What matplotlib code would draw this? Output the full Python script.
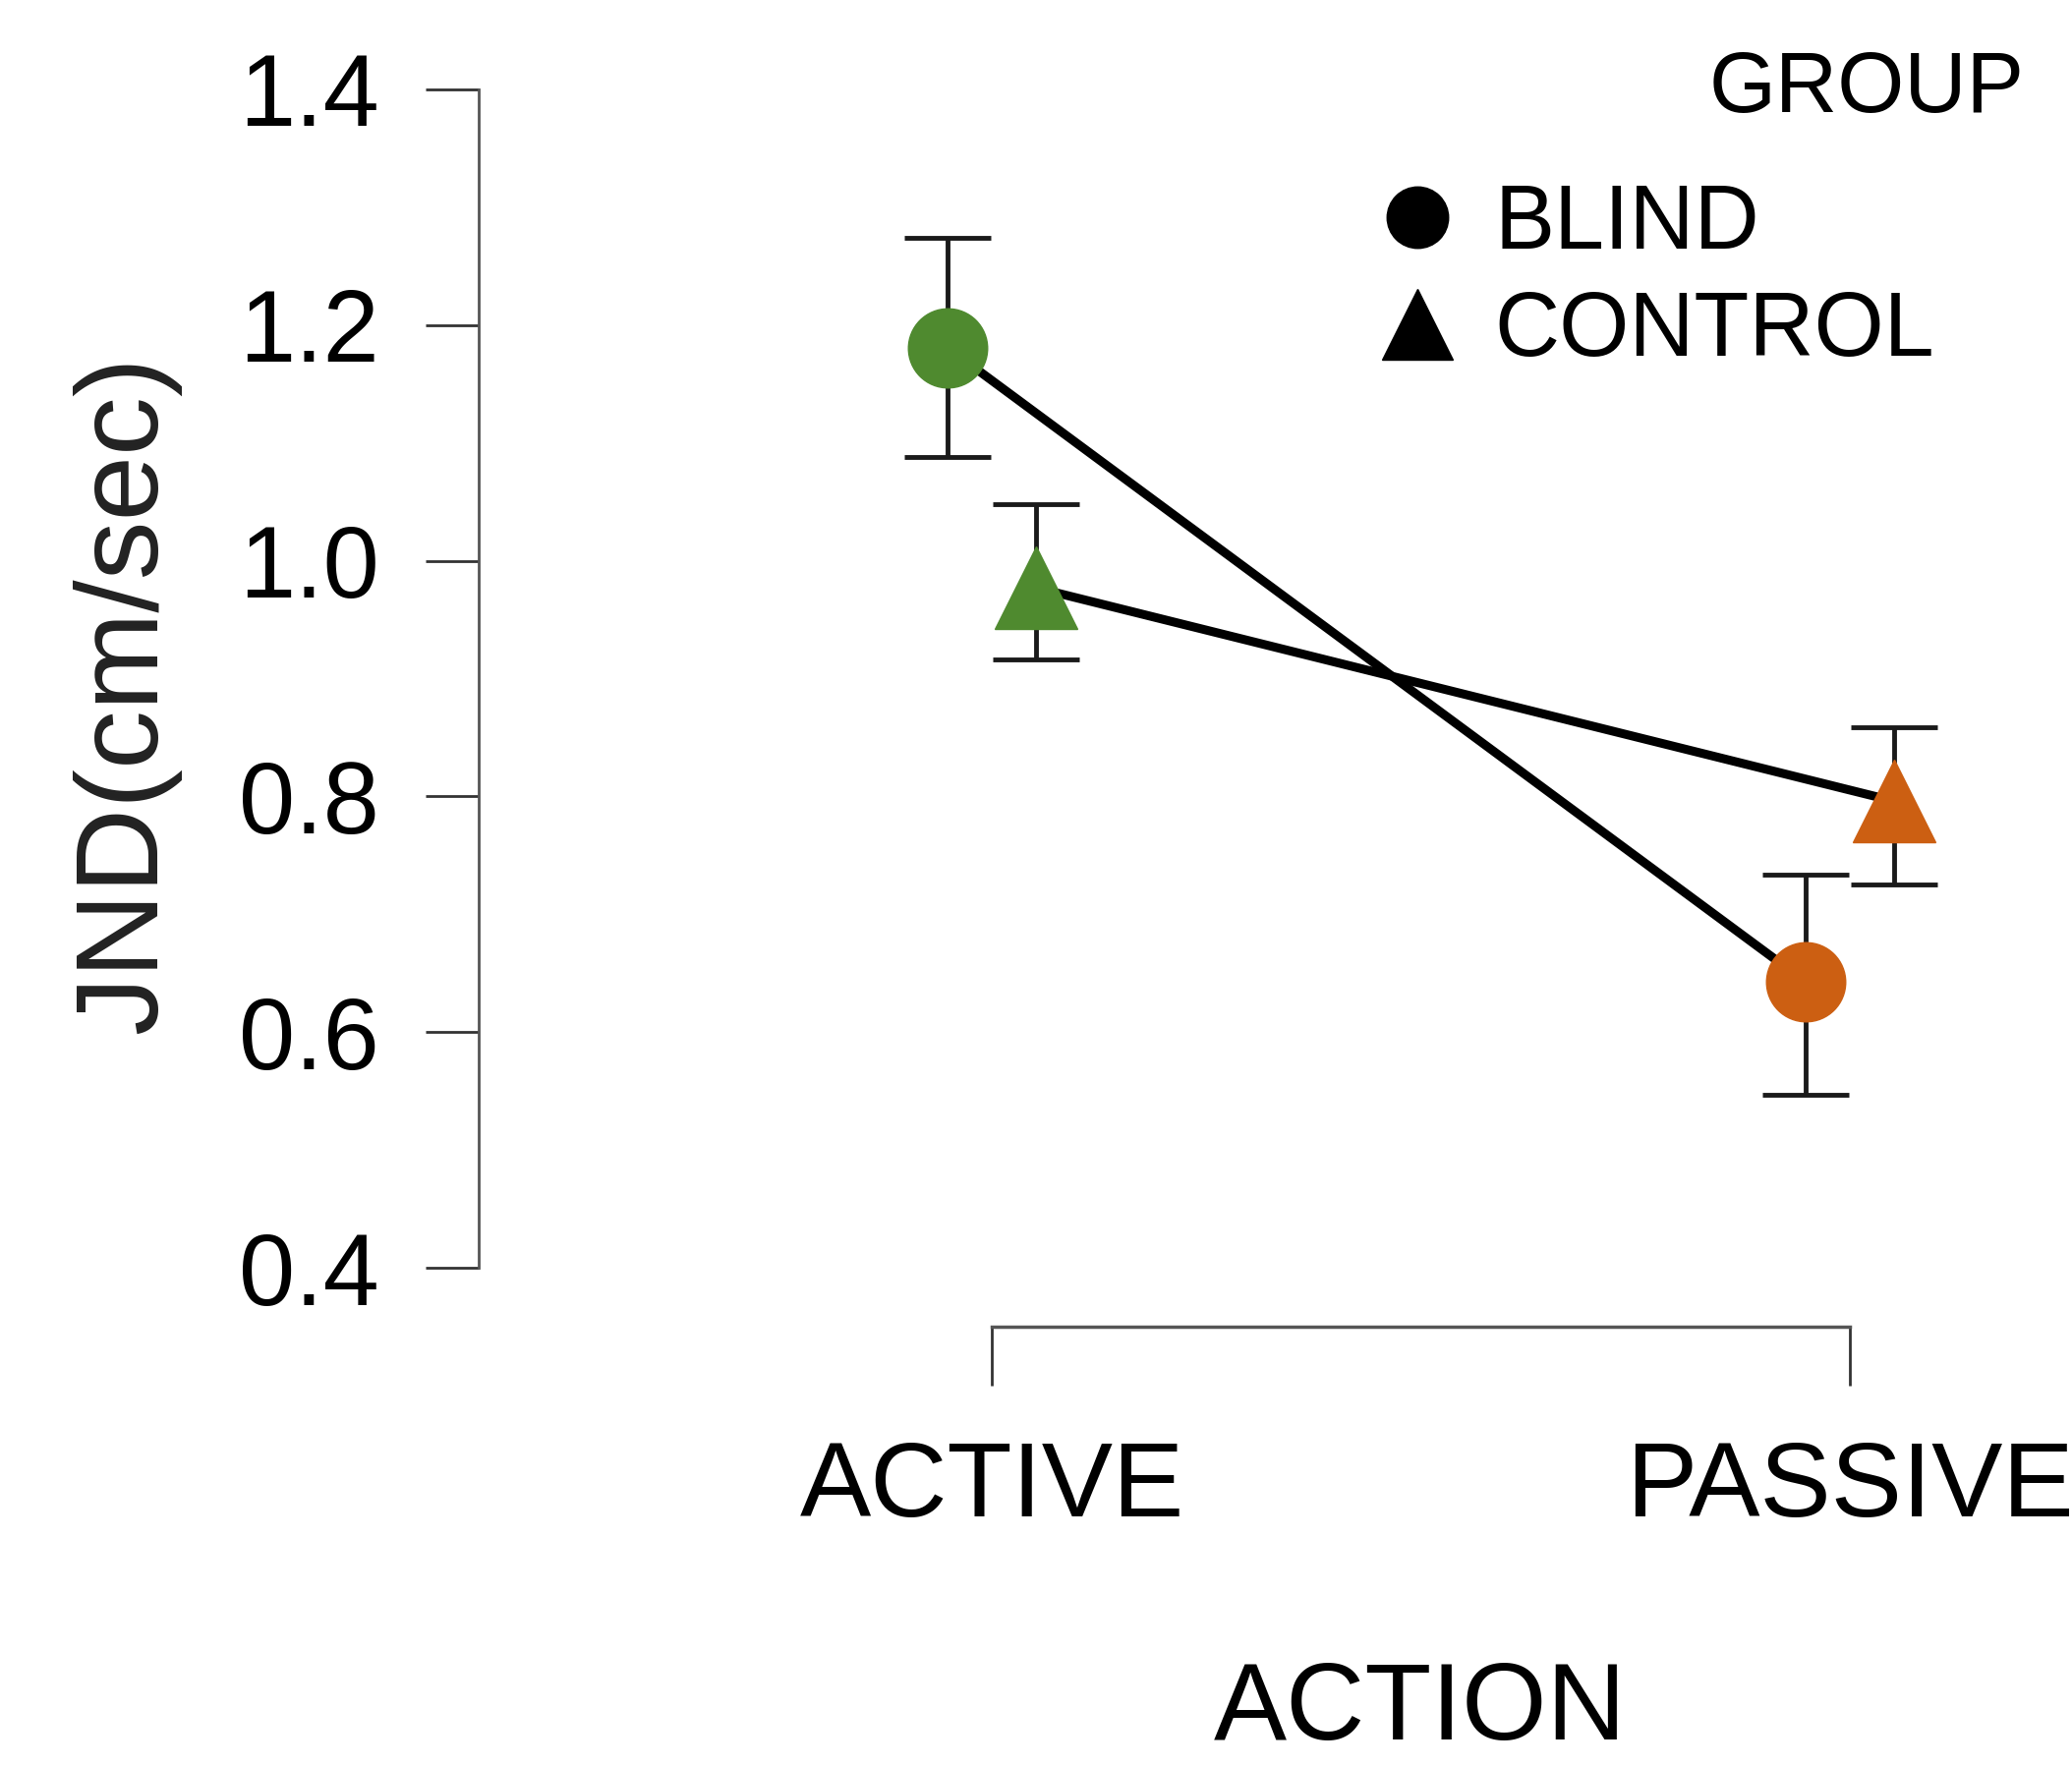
import matplotlib
matplotlib.use("Agg")
import matplotlib.pyplot as plt
from matplotlib.lines import Line2D

plt.rcParams["font.family"] = ["Liberation Sans", "DejaVu Sans"]

# values
actions = ["ACTIVE", "PASSIVE"]
groups = ["BLIND", "CONTROL"]
blind_mean = [1.181, 0.643]
blind_lo = [1.088, 0.547]
blind_hi = [1.274, 0.734]
control_mean = [0.977, 0.796]
control_lo = [0.916, 0.725]
control_hi = [1.048, 0.859]
yticks = [0.4, 0.6, 0.8, 1.0, 1.2, 1.4]

GREEN = "#4f8a2f"
ORANGE = "#cc5f12"
point_colors = [GREEN, ORANGE]
dodge = 0.052

fig = plt.figure(figsize=(21.08, 17.97), dpi=100)
ax = fig.add_axes([0.231, 0.2821, 0.769, 0.6673])

series = [
    (blind_mean, blind_lo, blind_hi, "o", -dodge, 58),
    (control_mean, control_lo, control_hi, "^", dodge, 60),
]
for mean, lo, hi, marker, off, ms in series:
    xs = [i + off for i in range(len(actions))]
    ax.plot(xs, mean, color="black", lw=6.5, zorder=2)
    yerr = [[m - l for m, l in zip(mean, lo)], [h - m for m, h in zip(mean, hi)]]
    ax.errorbar(xs, mean, yerr=yerr, fmt="none", ecolor="#1a1a1a",
                elinewidth=3.5, capsize=32, capthick=3.5, zorder=1)
    for x, y, c in zip(xs, mean, point_colors):
        ax.plot([x], [y], marker=marker, ms=ms, color=c, mec=c, ls="none", zorder=3)

ax.set_xlim(-0.598, 1.259)
ax.set_ylim(0.4, 1.4)

for s in ["top", "right"]:
    ax.spines[s].set_visible(False)
ax.spines["left"].set_bounds(0.4, 1.4)
ax.spines["left"].set_color("#555555")
ax.spines["left"].set_linewidth(2)
ax.spines["bottom"].set_bounds(0, 1)
ax.spines["bottom"].set_position(("outward", 43))
ax.spines["bottom"].set_color("#555555")
ax.spines["bottom"].set_linewidth(2.5)

ax.set_yticks(yticks)
ax.set_yticklabels([f"{v:.1f}" for v in yticks], fontsize=74)
ax.tick_params(axis="y", length=39, width=2, color="#333333", pad=34)
ax.set_xticks(range(len(actions)))
ax.set_xticklabels(actions, fontsize=78)
ax.tick_params(axis="x", length=43, width=2, color="#333333", pad=40)

fig.text(0.061, 0.607, "JND(cm/sec)", rotation=90, fontsize=86,
         ha="center", va="center", color="#222222")
fig.text(0.6855, 0.031, "ACTION", fontsize=80, ha="center", va="center")
fig.text(0.977, 0.949, "GROUP", fontsize=63, ha="right", va="center")

handles = [
    Line2D([], [], marker="o", ms=45, color="black", ls="none"),
    Line2D([], [], marker="^", ms=52, color="black", ls="none"),
]
fig.legend(handles, groups, loc="upper left", bbox_to_anchor=(0.646, 0.917),
           frameon=False, fontsize=66, handlelength=0.95, handletextpad=0.38,
           labelspacing=0.25, borderaxespad=0)

fig.savefig("out.png", dpi=100)
